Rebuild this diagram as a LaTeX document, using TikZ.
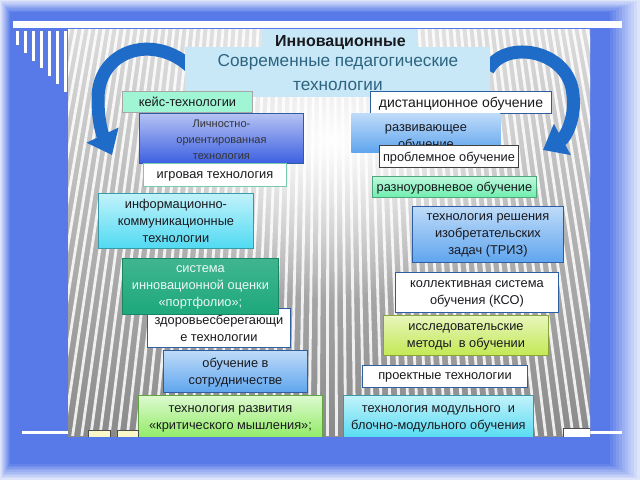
\documentclass[tikz,border=0pt]{standalone}
\usepackage{fontspec}
\setmainfont{Liberation Sans}
\usetikzlibrary{arrows.meta,fadings}

\definecolor{frameblue}{RGB}{88,122,232}
\definecolor{arrowblue}{RGB}{30,108,200}
\definecolor{edgeblue}{RGB}{45,95,160}
\definecolor{textdark}{RGB}{25,25,30}
\definecolor{titlefill}{RGB}{200,232,248}
\definecolor{titletext}{RGB}{45,100,128}
\definecolor{sky}{RGB}{95,165,238}
\definecolor{royal}{RGB}{60,95,225}
\definecolor{aqua}{RGB}{80,218,242}
\definecolor{lime}{RGB}{140,235,95}
\definecolor{yellowgreen}{RGB}{195,232,85}
\definecolor{mint}{RGB}{110,238,175}
\definecolor{keymint}{RGB}{160,245,212}
\definecolor{teal}{RGB}{30,168,124}
\definecolor{navyellow}{RGB}{250,248,200}

\tikzfading[name=midfade, inner color=transparent!0, outer color=transparent!100]

\tikzset{
  wh/.style 2 args={minimum width=#1pt, minimum height=#2pt},
  tbox/.style={draw=edgeblue, line width=0.9pt, inner sep=0pt, anchor=north west,
    align=center, text=textdark, text depth=0pt, font=\fontsize{12.8}{17}\selectfont},
  whitebox/.style={tbox, fill=white},
  skybox/.style={tbox, top color=sky!40!white, bottom color=sky},
  royalbox/.style={tbox, top color=royal!38!white, bottom color=royal},
  aquabox/.style={tbox, top color=aqua!35!white, bottom color=aqua},
  limebox/.style={tbox, top color=lime!30!white, bottom color=lime},
  ygbox/.style={tbox, top color=yellowgreen!40!white, bottom color=yellowgreen},
  mintbox/.style={tbox, top color=mint!45!white, bottom color=mint},
  navbtn/.style={draw=black!70, line width=0.8pt, fill=navyellow, anchor=north west, inner sep=0pt},
  bend arrow/.style={arrowblue, line width=13pt, -{Triangle[length=22pt,width=34pt]}}
}

\begin{document}
\begin{tikzpicture}[x=1pt, y=-1pt]
\useasboundingbox (0,0) rectangle (640,480);
% frame
\fill[frameblue!20!white] (0,0) rectangle (640,480);
\foreach \i [evaluate=\i as \p using int(20+\i*8)] in {0,...,10}
  \fill[frameblue!\p!white] (\i,{1.2*\i}) rectangle ({640-3*\i},{480-1.6*\i});
\fill[white] (13,21) rectangle (622,28);
\fill[white] (22,431) rectangle (622,434);
\foreach \i in {0,...,6}
  \fill[white] ({16+8*\i},31) rectangle ({19+8*\i},{45+7.8*\i});

\begin{scope}
\clip (68,29) rectangle (590,436);
\shade[top color=black!14, middle color=black!26, bottom color=black!46] (68,29) rectangle (590,436);
\foreach \x in {20,27,...,680}
  \draw[white, line width=2.8pt, opacity=0.85] (\x,29) -- ({330+(\x-330)*1.3},436);
\fill[white, path fading=midfade, fit fading=true] (120,-20) rectangle (545,300);

% arrows
\draw[bend arrow] (200,78) .. controls (165,30) and (97,45) .. (98,100) .. controls (98,122) and (103,136) .. (112,155);
\draw[bend arrow] (488,70) .. controls (505,38) and (570,50) .. (573,95) .. controls (576,118) and (565,138) .. (543,150);

% title
\node[tbox, draw=none, fill=titlefill, wh={305}{50}, text=titletext,
  font=\fontsize{17.2}{24}\selectfont] (modern) at (185,47) {Современные педагогические\\технологии};
\node[tbox, draw=none, fill=titlefill, wh={156}{25}, font=\bfseries\fontsize{16}{18}\selectfont] (innov) at (262,28) {Инновационные};

% left column
\node[tbox, draw=black!35, fill=keymint, wh={130}{21}] (case) at (122,91) {кейс-технологии};
\node[royalbox, wh={164}{50}, text=black!80, font=\fontsize{11}{16}\selectfont] (person) at (139,113) {\rule{0pt}{11pt}Личностно-\\ориентированная\\технология};
\node[whitebox, draw=teal!60, wh={143}{23}] (game) at (143,163) {игровая технология};
\node[aquabox, draw=aqua!70!black, wh={155}{55}] (ict) at (98,193) {информационно-\\коммуникационные\\технологии};
\node[whitebox, wh={143}{39}] (health) at (147,308) {здоровьесберегающи\\е технологии};
\node[tbox, draw=teal!80!black, top color=teal!85!white, bottom color=teal, text=white!92!teal, wh={156}{56}] (folio) at (122,258) {система\\инновационной оценки\\«портфолио»;};
\node[skybox, wh={144}{42}] (coop) at (163,350) {обучение в\\сотрудничестве};
\node[limebox, draw=lime!70!black, wh={184}{45}] (critic) at (138,395) {технология развития\\«критического мышления»;};

% right column
\node[whitebox, wh={181}{22}, font=\fontsize{14}{17}\selectfont] (remote) at (370,91) {дистанционное обучение};
\node[skybox, draw=none, wh={149}{39}] (develop) at (351,113) {\rule{0pt}{14pt}развивающее\\обучение};
\node[whitebox, draw=black!75, wh={139}{22}] (problem) at (379,145) {проблемное обучение};
\node[mintbox, draw=mint!70!black, wh={164}{21}] (level) at (372,176) {разноуровневое обучение};
\node[skybox, wh={151}{56}] (triz) at (412,206) {технология решения\\изобретательских\\задач (ТРИЗ)};
\node[whitebox, wh={163}{40}] (kso) at (395,272) {коллективная система\\обучения (КСО)};
\node[ygbox, draw=yellowgreen!70!black, wh={165}{40}] (research) at (383,315) {исследовательские\\методы\ \ в обучении};
\node[whitebox, wh={165}{22}] (project) at (362,365) {проектные технологии};
\node[aquabox, draw=aqua!70!black, wh={190}{45}] (module) at (343,395) {технология модульного\ \ и\\блочно-модульного обучения};

% slide buttons
\node[navbtn, wh={22}{12}] (back) at (88,430) {};
\node[navbtn, wh={21}{12}] (next) at (117,430) {};
\node[navbtn, fill=white, wh={27}{12}] (home) at (563,428) {};
\end{scope}
\end{tikzpicture}
\end{document}
